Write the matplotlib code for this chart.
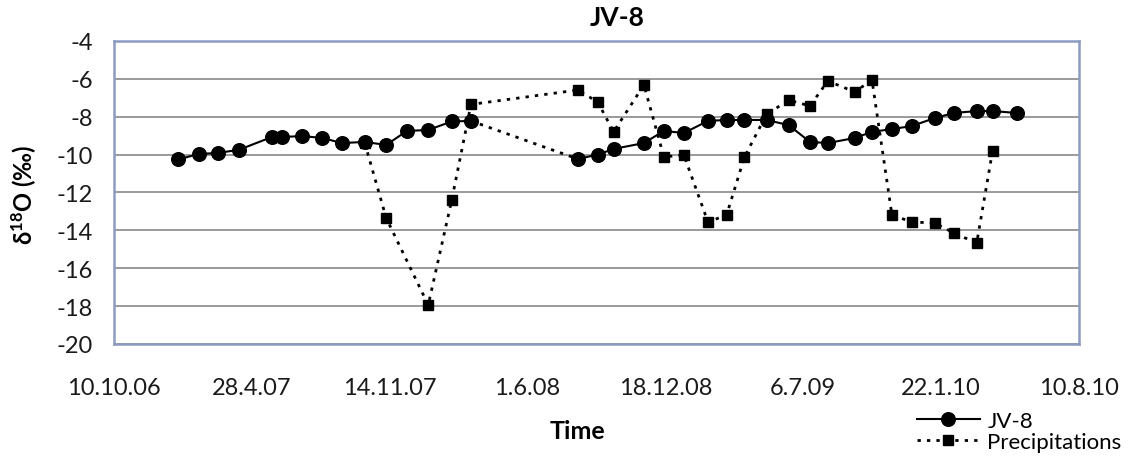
import numpy as np
import pandas as pd
import matplotlib
matplotlib.use('Agg')
import matplotlib.pyplot as plt

plt.rcParams['font.family'] = ['Lato', 'DejaVu Sans']
plt.rcParams['axes.unicode_minus'] = False
plt.rcParams['mathtext.fontset'] = 'custom'
plt.rcParams['mathtext.rm'] = 'Lato'
plt.rcParams['mathtext.bf'] = 'Lato:bold'

# JV-8 spring water samples
jv8_dates = ['2007-01-11', '2007-02-10', '2007-03-10', '2007-04-09', '2007-05-27',
             '2007-06-11', '2007-07-10', '2007-08-08', '2007-09-06', '2007-10-09',
             '2007-11-09', '2007-12-09', '2008-01-09', '2008-02-12', '2008-03-11',
             '2008-08-13', '2008-09-11', '2008-10-04', '2008-11-17', '2008-12-16',
             '2009-01-14', '2009-02-18', '2009-03-17', '2009-04-12', '2009-05-14',
             '2009-06-15', '2009-07-16', '2009-08-11', '2009-09-19', '2009-10-14',
             '2009-11-12', '2009-12-11', '2010-01-13', '2010-02-10', '2010-03-15',
             '2010-04-07', '2010-05-12']
jv8_d18o = [-10.25, -9.97, -9.91, -9.75, -9.07,
            -9.07, -9.02, -9.12, -9.39, -9.33,
            -9.49, -8.75, -8.70, -8.25, -8.22,
            -10.23, -10.0, -9.70, -9.39, -8.75,
            -8.86, -8.22, -8.17, -8.17, -8.17,
            -8.44, -9.33, -9.39, -9.12, -8.80,
            -8.65, -8.49, -8.07, -7.80, -7.70,
            -7.70, -7.80]

# precipitation samples
prec_dates = ['2007-10-09', '2007-11-09', '2008-01-09', '2008-02-12', '2008-03-11',
              '2008-08-13', '2008-09-11', '2008-10-04', '2008-11-17', '2008-12-16',
              '2009-01-14', '2009-02-18', '2009-03-17', '2009-04-12', '2009-05-14',
              '2009-06-15', '2009-07-16', '2009-08-11', '2009-09-19', '2009-10-14',
              '2009-11-12', '2009-12-11', '2010-01-13', '2010-02-10', '2010-03-15',
              '2010-04-07']
prec_d18o = [-9.4, -13.35, -17.94, -12.42, -7.35,
             -6.59, -7.22, -8.80, -6.32, -10.12,
             -10.02, -13.56, -13.19, -10.12, -7.88,
             -7.12, -7.43, -6.11, -6.69, -6.06,
             -13.19, -13.56, -13.61, -14.14, -14.67,
             -9.81]

tick_dates = ['2006-10-10', '2007-04-28', '2007-11-14', '2008-06-01',
              '2008-12-18', '2009-07-06', '2010-01-22', '2010-08-10']
tick_labels = ['10.10.06', '28.4.07', '14.11.07', '1.6.08',
               '18.12.08', '6.7.09', '22.1.10', '10.8.10']

jv8 = pd.Series(jv8_d18o, index=pd.to_datetime(jv8_dates))
prec = pd.Series(prec_d18o, index=pd.to_datetime(prec_dates))
ticks = pd.to_datetime(tick_dates)

dotted = (0, (1.2, 2.2))

fig = plt.figure(figsize=(11.37, 4.64), dpi=100)
ax = fig.add_axes([0.1003, 0.2565, 0.8484, 0.653])

# gap in the JV-8 record is bridged by a dotted segment
gap = np.argmax(np.diff(jv8.index.values).astype('timedelta64[D]').astype(int) > 60) + 1
ax.plot(jv8.index[:gap], jv8.values[:gap], color='black', lw=1.5, zorder=3)
ax.plot(jv8.index[gap:], jv8.values[gap:], color='black', lw=1.5, zorder=3)
ax.plot(jv8.index[gap - 1:gap + 1], jv8.values[gap - 1:gap + 1], color='black',
        lw=2, linestyle=dotted, zorder=2)
ax.plot(jv8.index, jv8.values, linestyle='none', marker='o', ms=9.8, color='black', zorder=4)

ax.plot(prec.index, prec.values, color='black', lw=2, linestyle=dotted,
        marker='s', ms=6.8, zorder=5)

ax.set_xlim(ticks[0], ticks[-1])
ax.set_ylim(-20, -4)
ax.set_yticks(np.arange(-20, -3, 2))
ax.set_xticks(ticks)
ax.set_xticklabels(tick_labels)
ax.tick_params(axis='both', length=0, labelsize=17, colors='#1a1a1a')
ax.tick_params(axis='x', pad=24)
ax.tick_params(axis='y', pad=15)
ax.grid(axis='y', color='#9a9a9a', lw=1.4)
ax.set_axisbelow(True)
for s in ax.spines.values():
    s.set_color('#8c9cc0')
    s.set_linewidth(1.8)

fig.text(0.543, 0.962, 'JV-8', ha='center', va='center', fontsize=19, fontweight='bold')
fig.text(0.508, 0.069, 'Time', ha='center', va='center', fontsize=18, fontweight='bold')
fig.text(0.021, 0.58, r'$\mathbf{\delta^{18}O}$ (‰)', ha='center', va='center',
         fontsize=17, fontweight='bold', rotation=90)

h1, = ax.plot([], [], color='black', lw=1.5, marker='o', ms=9.8)
h2, = ax.plot([], [], color='black', lw=2, linestyle=dotted, marker='s', ms=6.8)
fig.legend([h1, h2], ['JV-8', 'Precipitations'], loc='center left',
           bbox_to_anchor=(0.797, 0.068), frameon=False, fontsize=16,
           handlelength=2.8, handletextpad=0.35, labelspacing=0.05, borderpad=0)

plt.savefig('out.png', dpi=100)
